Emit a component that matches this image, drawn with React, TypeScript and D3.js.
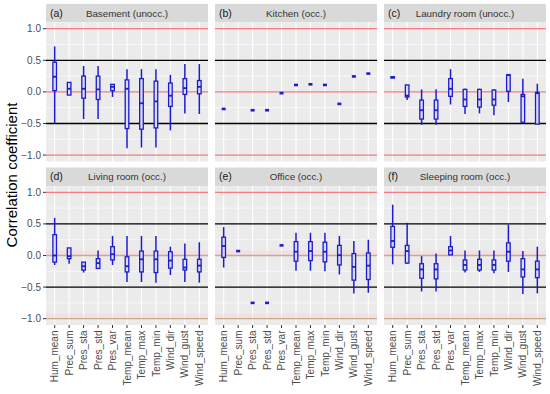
import * as d3 from "d3";

type Stat = [number, number, number, number, number] | null;

const variables = [
  "Hum_mean", "Prec_sum", "Pres_sta", "Pres_std", "Pres_var", "Temp_mean",
  "Temp_max", "Temp_min", "Wind_dir", "Wind_gust", "Wind_speed",
];
const panelTags = ["(a)", "(b)", "(c)", "(d)", "(e)", "(f)"];
const panelTitles = [
  "Basement (unocc.)", "Kitchen (occ.)", "Laundry room (unocc.)",
  "Living room (occ.)", "Office (occ.)", "Sleeping room (occ.)",
];
const yTicks = [-1, -0.5, 0, 0.5, 1];
const redLines = [-1, 0, 1];
const blackLines = [-0.5, 0.5];

const one = (v: number): Stat => [v, v, v, v, v];

// [lower whisker, q1, median, q3, upper whisker]
const basement: Stat[] = [
  [-0.505, 0.02, 0.24, 0.47, 0.72],
  [-0.05, -0.05, 0.05, 0.15, 0.15],
  [-0.43, -0.1, 0.05, 0.25, 0.41],
  [-0.43, -0.12, 0.04, 0.25, 0.41],
  [-0.08, 0.02, 0.08, 0.12, 0.12],
  [-0.89, -0.58, 0.05, 0.19, 0.36],
  [-0.88, -0.59, -0.18, 0.21, 0.36],
  [-0.88, -0.57, -0.15, 0.17, 0.36],
  [-0.61, -0.23, -0.06, 0.14, 0.27],
  [-0.34, -0.04, 0.06, 0.21, 0.44],
  [-0.35, -0.03, 0.08, 0.18, 0.44],
];
const kitchen: Stat[] = [
  one(-0.27), null, one(-0.29), one(-0.29), one(-0.02), one(0.11),
  one(0.12), one(0.11), one(-0.19), one(0.245), one(0.29),
];
const laundry: Stat[] = [
  [0.22, 0.22, 0.23, 0.24, 0.24],
  [-0.13, -0.08, -0.06, 0.11, 0.11],
  [-0.52, -0.43, -0.29, -0.13, 0.04],
  [-0.52, -0.43, -0.29, -0.13, 0.04],
  [-0.2, -0.07, 0.05, 0.21, 0.36],
  [-0.35, -0.23, -0.12, 0.04, 0.05],
  [-0.34, -0.24, -0.12, 0.04, 0.05],
  [-0.37, -0.21, -0.12, 0.03, 0.04],
  [-0.16, 0.01, 0.27, 0.27, 0.28],
  [-0.49, -0.48, -0.07, -0.04, 0.21],
  [-0.51, -0.51, -0.02, -0.01, 0.13],
];
const living: Stat[] = [
  [-0.15, -0.105, 0.0, 0.33, 0.595],
  [-0.13, -0.05, -0.01, 0.12, 0.12],
  [-0.27, -0.23, -0.17, -0.105, -0.105],
  [-0.21, -0.205, -0.12, -0.05, 0.08],
  [-0.15, -0.07, 0.02, 0.14, 0.31],
  [-0.42, -0.26, -0.17, -0.02, 0.31],
  [-0.42, -0.26, -0.06, 0.07, 0.31],
  [-0.43, -0.27, -0.06, 0.07, 0.31],
  [-0.31, -0.2, -0.08, 0.06, 0.14],
  [-0.42, -0.23, -0.19, -0.06, 0.19],
  [-0.43, -0.26, -0.16, -0.06, 0.21],
];
const office: Stat[] = [
  [-0.19, -0.03, 0.15, 0.29, 0.45],
  one(0.07), one(-0.75), one(-0.75), one(0.16),
  [-0.24, -0.09, 0.06, 0.22, 0.36],
  [-0.24, -0.08, 0.07, 0.22, 0.36],
  [-0.25, -0.1, 0.06, 0.21, 0.36],
  [-0.3, -0.15, 0.005, 0.16, 0.31],
  [-0.6, -0.39, -0.18, 0.03, 0.23],
  [-0.59, -0.38, -0.16, 0.04, 0.25],
];
const sleeping: Stat[] = [
  [-0.14, 0.13, 0.23, 0.46, 0.805],
  [-0.13, -0.12, 0.07, 0.16, 0.52],
  [-0.57, -0.36, -0.22, -0.13, -0.01],
  [-0.57, -0.37, -0.22, -0.13, 0.03],
  [0.01, 0.01, 0.08, 0.14, 0.31],
  [-0.27, -0.23, -0.15, -0.07, 0.08],
  [-0.26, -0.23, -0.15, -0.06, 0.08],
  [-0.28, -0.23, -0.15, -0.07, 0.08],
  [-0.26, -0.09, 0.06, 0.2, 0.49],
  [-0.61, -0.34, -0.22, -0.05, 0.07],
  [-0.6, -0.35, -0.22, -0.09, 0.14],
];
const panelData = [basement, kitchen, laundry, living, office, sleeping];

const W = 550;
const H = 394;
const colX = [46, 215, 384];
const panelW = 162;
const rowTop = [22.4, 186];
const panelH = 139;
const stripH = 18.5;
const font = "'Liberation Sans', Arial, sans-serif";
const blue = "#1b1bcf";

const Panel = ({ idx }: { idx: number }) => {
  const col = idx % 3;
  const row = Math.floor(idx / 3);
  const x0 = colX[col];
  const y0 = rowTop[row];
  const x = d3.scalePoint<string>().domain(variables).range([x0, x0 + panelW]).padding(0.6);
  const y = d3.scaleLinear().domain([-1.1, 1.1]).range([y0 + panelH, y0]);
  const minor = [-0.75, -0.25, 0.25, 0.75];
  const data = panelData[idx];
  const bw = 3.6;

  return (
    <g>
      <rect x={x0} y={y0 - stripH} width={panelW} height={stripH} fill="#d9d9d9" />
      <text x={x0 + 4} y={y0 - stripH / 2 + 3.6} fontSize={10.5} fill="#1a1a1a">{panelTags[idx]}</text>
      <text x={x0 + panelW / 2} y={y0 - stripH / 2 + 3.5} fontSize={9.8} fill="#333" textAnchor="middle">
        {panelTitles[idx]}
      </text>
      <rect x={x0} y={y0} width={panelW} height={panelH} fill="#ebebeb" />
      {minor.map((v) => (
        <line key={"mn" + v} x1={x0} x2={x0 + panelW} y1={y(v)} y2={y(v)} stroke="#fff" strokeWidth={0.6} />
      ))}
      {variables.map((v) => (
        <line key={"vg" + v} x1={x(v)} x2={x(v)} y1={y0} y2={y0 + panelH} stroke="#fff" strokeWidth={1.1} />
      ))}
      {blackLines.map((v) => (
        <line key={"bl" + v} x1={x0} x2={x0 + panelW} y1={y(v)} y2={y(v)} stroke="#000" strokeWidth={1.3} />
      ))}
      {redLines.map((v) =>
        row === 1 && v < 1 ? (
          <g key={"rl" + v}>
            <rect x={x0} y={y(v) - 5} width={panelW} height={5} fill="#ffc8d4" opacity={0.35} />
            <line x1={x0} x2={x0 + panelW} y1={y(v)} y2={y(v)} stroke="#c8aa8a" strokeWidth={1.3} />
          </g>
        ) : (
          <line key={"rl" + v} x1={x0} x2={x0 + panelW} y1={y(v)} y2={y(v)} stroke="#f67b80" strokeWidth={1.3} />
        )
      )}
      {data.map((s, i) => {
        if (!s) return null;
        const cx = x(variables[i]) as number;
        const [lo, q1, med, q3, hi] = s;
        if (lo === hi) {
          return <rect key={i} x={cx - 2} y={y(med) - 1.3} width={4} height={2.6} fill={blue} />;
        }
        return (
          <g key={i}>
            <line x1={cx} x2={cx} y1={y(hi)} y2={y(q3)} stroke={blue} strokeWidth={1.5} />
            <line x1={cx} x2={cx} y1={y(q1)} y2={y(lo)} stroke={blue} strokeWidth={1.5} />
            <rect
              x={cx - bw / 2}
              y={y(q3)}
              width={bw}
              height={Math.max(y(q1) - y(q3), 0.5)}
              fill="#dcdcf4"
              stroke={blue}
              strokeWidth={1.3}
            />
            <line x1={cx - bw / 2} x2={cx + bw / 2} y1={y(med)} y2={y(med)} stroke={blue} strokeWidth={1.8} />
          </g>
        );
      })}
      {col === 0 &&
        yTicks.map((v) => (
          <g key={"yt" + v}>
            <line x1={x0 - 3} x2={x0} y1={y(v)} y2={y(v)} stroke="#333" strokeWidth={1} />
            <text x={x0 - 5} y={y(v) + 3.5} fontSize={10} fill="#4d4d4d" textAnchor="end">
              {d3.format(".1f")(v).replace("-", "\u2212")}
            </text>
          </g>
        ))}
      {row === 1 &&
        variables.map((v) => {
          const cx = x(v) as number;
          const ty = y0 + panelH;
          return (
            <g key={"xt" + v}>
              <line x1={cx} x2={cx} y1={ty} y2={ty + 3} stroke="#333" strokeWidth={1} />
              <text
                transform={`translate(${cx + 3.6},${ty + 5.5}) rotate(-90)`}
                fontSize={10}
                fill="#4d4d4d"
                textAnchor="end"
              >
                {v}
              </text>
            </g>
          );
        })}
    </g>
  );
};

export default function App() {
  return (
    <div style={{ position: "absolute", left: 0, top: 0 }}>
      <svg width={W} height={H} style={{ display: "block", fontFamily: font }}>
        <rect width={W} height={H} fill="#fff" />
        {panelTags.map((_, i) => (
          <Panel key={i} idx={i} />
        ))}
        <text transform="translate(17,175) rotate(-90)" fontSize={15} fill="#000" textAnchor="middle">
          Correlation coefficient
        </text>
      </svg>
    </div>
  );
}
